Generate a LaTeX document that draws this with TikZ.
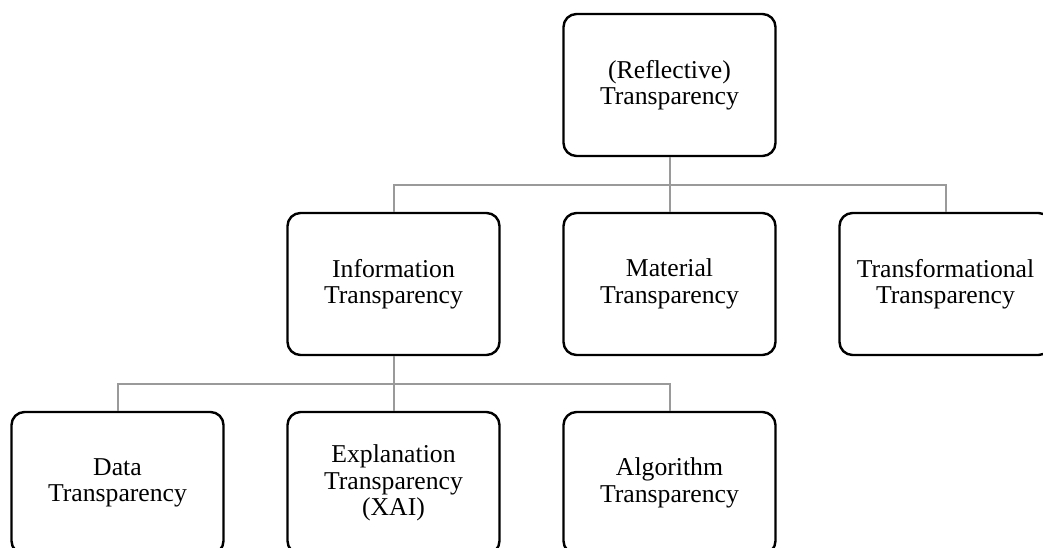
\documentclass[tikz,border=0pt]{standalone}
\usepackage{fontspec}
\setmainfont{Liberation Serif}
\usepackage{tikz}
\usetikzlibrary{positioning}
\definecolor{linkGray}{HTML}{9A9A9A}

\begin{document}
\begin{tikzpicture}[node distance=54.6pt and 61.6pt,
    every node/.style={font=\fontsize{25.7}{26.5}\selectfont},
    box/.style={draw, line width=2.4pt, rounded corners=13pt, align=center,
                minimum width=212pt, minimum height=142pt},
    link/.style={draw=linkGray, line width=2pt}]
    \useasboundingbox (0pt,0pt) rectangle (1043pt,-547pt);
    \node[box] (r) at (669.5pt,-85pt) {(Reflective)\\Transparency};
    \node[box, below=of r] (m) {Material\\Transparency};
    \node[box, left=of m] (i) {Information\\Transparency};
    \node[box, right=of m] (t) {Transformational\\Transparency};
    \node[box, below=of i] (x) {Explanation\\Transparency\\(XAI)};
    \node[box, left=of x] (d) {Data\\Transparency};
    \node[box, right=of x] (g) {Algorithm\\Transparency};
    \draw[link] (r.south) -- (m.north);
    \draw[link] (i.north) -- ++(0,27.3pt) -| (t.north);
    \draw[link] (i.south) -- (x.north);
    \draw[link] (d.north) -- ++(0,27.3pt) -| (g.north);
  \end{tikzpicture}
\end{document}
